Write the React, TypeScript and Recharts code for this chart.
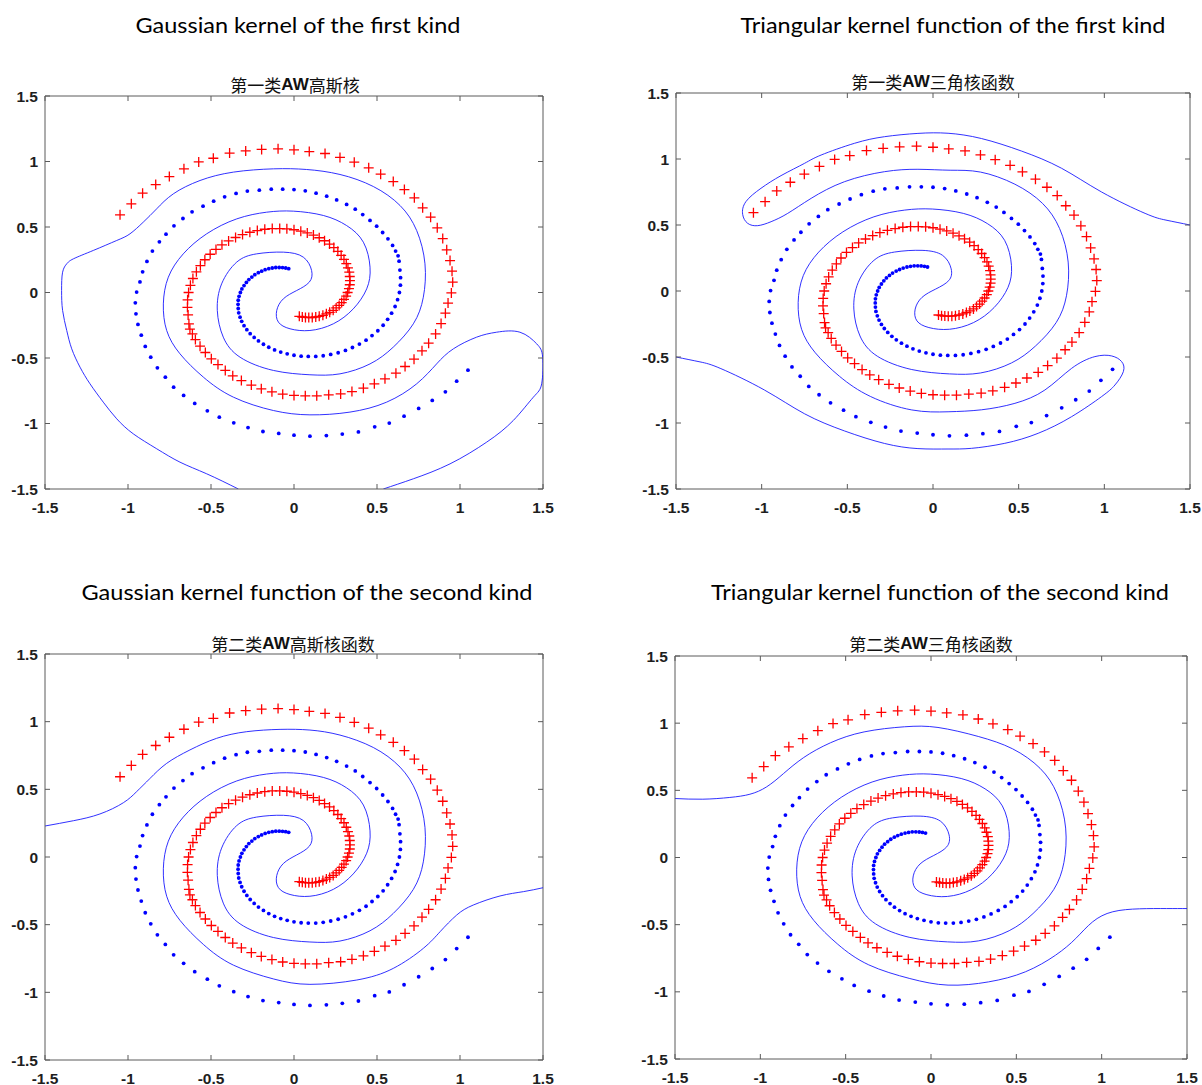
import React from 'react';
import { ComposedChart, XAxis, YAxis, Scatter, Line, ReferenceLine } from 'recharts';

type P = [number, number];

const TICKS = [-1.5, -1, -0.5, 0, 0.5, 1, 1.5];
const TICK_LABELS = ['-1.5', '-1', '-0.5', '0', '0.5', '1', '1.5'];

const TITLES = [
  'Gaussian kernel of the first kind',
  'Triangular kernel function of the first kind',
  'Gaussian kernel function of the second kind',
  'Triangular kernel function of the second kind',
];
const SUB_PRE = ['第一类', '第一类', '第二类', '第二类'];
const SUB_POST = ['高斯核', '三角核函数', '高斯核函数', '三角核函数'];

// red "+" spiral (class 1)
const RED: P[] = [
  [-1.048,0.593],[-0.980,0.677],[-0.912,0.758],[-0.833,0.824],[-0.751,0.885],[-0.663,0.944],[-0.574,0.997],[-0.486,1.025],[-0.388,1.064],[-0.291,1.081],[-0.195,1.092],[-0.096,1.097],[0.000,1.089],[0.092,1.076],[0.187,1.061],[0.277,1.031],[0.363,0.995],[0.450,0.952],[0.522,0.903],[0.598,0.847],[0.665,0.786],[0.725,0.723],[0.775,0.646],[0.823,0.575],[0.863,0.494],[0.896,0.412],[0.920,0.326],[0.940,0.244],[0.952,0.163],[0.956,0.079],[0.948,-0.003],[0.928,-0.081],[0.912,-0.158],[0.886,-0.237],[0.853,-0.316],[0.811,-0.387],[0.771,-0.445],[0.723,-0.509],[0.669,-0.565],[0.614,-0.616],[0.548,-0.659],[0.484,-0.697],[0.418,-0.730],[0.349,-0.756],[0.281,-0.774],[0.209,-0.781],[0.137,-0.789],[0.068,-0.789],[0.000,-0.786],[-0.068,-0.776],[-0.133,-0.758],[-0.197,-0.735],[-0.257,-0.707],[-0.317,-0.672],[-0.369,-0.636],[-0.414,-0.595],[-0.458,-0.550],[-0.498,-0.506],[-0.534,-0.458],[-0.566,-0.410],[-0.594,-0.359],[-0.612,-0.316],[-0.627,-0.280],[-0.633,-0.239],
  [-0.638,-0.171],[-0.642,-0.113],[-0.641,-0.056],[-0.635,0],[-0.624,0.055],[-0.609,0.107],[-0.588,0.158],[-0.564,0.205],[-0.537,0.250],[-0.505,0.292],[-0.470,0.329],[-0.434,0.364],[-0.394,0.394],[-0.352,0.420],[-0.310,0.442],[-0.266,0.460],[-0.221,0.473],[-0.176,0.483],[-0.131,0.488],[-0.086,0.488],[-0.043,0.486],[0,0.479],[0.041,0.468],[0.080,0.455],[0.117,0.438],[0.152,0.418],[0.184,0.395],[0.214,0.370],[0.240,0.343],[0.264,0.314],[0.284,0.284],[0.301,0.253],[0.315,0.220],[0.325,0.188],[0.333,0.155],[0.336,0.122],[0.337,0.090],[0.336,0.059],[0.331,0.029],[0.323,0],[0.314,-0.027],[0.301,-0.053],[0.287,-0.077],[0.272,-0.099],[0.254,-0.118],[0.236,-0.136],[0.215,-0.151],[0.195,-0.163],[0.174,-0.174],[0.152,-0.182],[0.131,-0.187],[0.110,-0.191],[0.089,-0.191],[0.069,-0.190],[0.050,-0.187],[0.032,-0.182],
];

// blue dot spiral (class 2)
const BLUE: P[] = [
  [1.048,-0.593],[0.980,-0.677],[0.912,-0.758],[0.833,-0.824],[0.751,-0.885],[0.663,-0.944],[0.574,-0.997],[0.486,-1.025],[0.388,-1.064],[0.291,-1.081],[0.195,-1.092],[0.096,-1.097],[0,-1.089],[-0.092,-1.076],[-0.187,-1.061],[-0.277,-1.031],[-0.363,-0.995],[-0.450,-0.952],[-0.522,-0.903],[-0.598,-0.847],[-0.665,-0.786],[-0.725,-0.723],[-0.775,-0.646],[-0.823,-0.575],[-0.863,-0.494],[-0.896,-0.412],[-0.920,-0.326],[-0.940,-0.244],[-0.952,-0.163],[-0.956,-0.079],[-0.948,0.003],[-0.928,0.081],[-0.912,0.158],[-0.886,0.237],[-0.853,0.316],[-0.811,0.387],[-0.771,0.445],[-0.723,0.509],[-0.669,0.565],[-0.614,0.616],[-0.548,0.659],[-0.484,0.697],[-0.418,0.730],[-0.349,0.756],[-0.281,0.774],[-0.209,0.781],[-0.137,0.789],[-0.068,0.789],[0,0.786],[0.068,0.776],[0.133,0.758],[0.197,0.735],[0.257,0.707],[0.317,0.672],[0.369,0.636],[0.414,0.595],[0.458,0.550],[0.498,0.506],[0.534,0.458],[0.566,0.410],[0.594,0.359],[0.612,0.316],[0.627,0.280],[0.633,0.239],
  [0.638,0.171],[0.642,0.113],[0.641,0.056],[0.635,0],[0.624,-0.055],[0.609,-0.107],[0.588,-0.158],[0.564,-0.205],[0.537,-0.250],[0.505,-0.292],[0.470,-0.329],[0.434,-0.364],[0.394,-0.394],[0.352,-0.420],[0.310,-0.442],[0.266,-0.460],[0.221,-0.473],[0.176,-0.483],[0.131,-0.488],[0.086,-0.488],[0.043,-0.486],[0,-0.479],[-0.041,-0.468],[-0.080,-0.455],[-0.117,-0.438],[-0.152,-0.418],[-0.184,-0.395],[-0.214,-0.370],[-0.240,-0.343],[-0.264,-0.314],[-0.284,-0.284],[-0.301,-0.253],[-0.315,-0.220],[-0.325,-0.188],[-0.333,-0.155],[-0.336,-0.122],[-0.337,-0.090],[-0.336,-0.059],[-0.331,-0.029],[-0.323,0],[-0.314,0.027],[-0.301,0.053],[-0.287,0.077],[-0.272,0.099],[-0.254,0.118],[-0.236,0.136],[-0.215,0.151],[-0.195,0.163],[-0.174,0.174],[-0.152,0.182],[-0.131,0.187],[-0.110,0.191],[-0.089,0.191],[-0.069,0.190],[-0.050,0.187],[-0.032,0.182],
];

// decision boundary: inner part shared by all four panels
const BOUNDARY_CORE: P[] = [
  [0.277,0.901],[0.478,0.809],[0.639,0.664],[0.739,0.473],[0.789,0.219],[0.779,-0.036],[0.719,-0.239],[0.598,-0.417],[0.458,-0.545],[0.277,-0.621],[0.096,-0.628],[-0.124,-0.595],[-0.325,-0.494],[-0.426,-0.341],[-0.462,-0.137],[-0.436,0.066],[-0.345,0.232],[-0.225,0.295],[-0.064,0.308],[0.056,0.270],[0.106,0.168],[0.092,0.079],[0.016,0.015],[-0.064,-0.048],[-0.104,-0.137],[-0.094,-0.226],[-0.024,-0.277],[0.096,-0.290],[0.237,-0.239],[0.357,-0.125],[0.438,0.028],[0.458,0.193],[0.418,0.384],[0.317,0.511],[0.177,0.588],[-0.004,0.621],[-0.165,0.613],[-0.345,0.562],[-0.526,0.448],[-0.667,0.295],[-0.757,0.117],[-0.787,-0.087],[-0.767,-0.290],[-0.687,-0.468],[-0.546,-0.646],[-0.365,-0.799],[-0.124,-0.901],
];

const G1_HEAD: P[] = [[-0.335,-1.5],[-0.526,-1.384],[-0.687,-1.295],[-0.827,-1.193],[-0.968,-1.079],[-1.068,-0.964],[-1.149,-0.837],[-1.229,-0.697],[-1.289,-0.570],[-1.339,-0.430],[-1.369,-0.290],[-1.394,-0.137],[-1.400,0.015],[-1.394,0.155],[-1.369,0.219],[-1.329,0.257],[-1.209,0.321],[-1.068,0.397],[-0.988,0.448],[-0.908,0.537],[-0.827,0.639],[-0.727,0.753],[-0.566,0.855],[-0.365,0.919],[-0.124,0.944],[0.076,0.939]];
const G1_TAIL: P[] = [[0.096,-0.934],[0.337,-0.913],[0.558,-0.837],[0.739,-0.697],[0.859,-0.545],[0.960,-0.430],[1.100,-0.341],[1.221,-0.303],[1.361,-0.303],[1.462,-0.392],[1.498,-0.494],[1.492,-0.697],[1.442,-0.799],[1.321,-0.977],[1.161,-1.142],[0.940,-1.308],[0.719,-1.422],[0.538,-1.5]];

const T1_HEAD: P[] = [[1.5,0.5],[1.36,0.537],[1.238,0.588],[0.984,0.75],[0.750,0.93],[0.517,1.06],[0.283,1.155],[0.088,1.195],[-0.088,1.194],[-0.283,1.169],[-0.458,1.119],[-0.653,1.030],[-0.750,0.967],[-0.887,0.874],[-1.004,0.778],[-1.092,0.677],[-1.111,0.581],[-1.082,0.513],[-1.023,0.495],[-0.945,0.525],[-0.848,0.588],[-0.711,0.702],[-0.517,0.828],[-0.283,0.904],[-0.088,0.922],[0.100,0.915]];
const T1_TAIL: P[] = [[0.088,-0.915],[0.283,-0.900],[0.478,-0.851],[0.653,-0.750],[0.809,-0.586],[0.945,-0.497],[1.043,-0.492],[1.101,-0.535],[1.111,-0.611],[1.062,-0.712],[0.984,-0.800],[0.809,-0.952],[0.614,-1.078],[0.419,-1.154],[0.224,-1.192],[0.088,-1.197],[-0.088,-1.194],[-0.283,-1.155],[-0.517,-1.06],[-0.750,-0.93],[-0.984,-0.75],[-1.238,-0.588],[-1.36,-0.537],[-1.5,-0.5]];

const G2_HEAD: P[] = [[-1.5,0.229],[-1.329,0.268],[-1.169,0.318],[-1.028,0.401],[-0.948,0.483],[-0.867,0.581],[-0.767,0.692],[-0.627,0.791],[-0.466,0.877],[-0.285,0.926],[-0.084,0.943],[0.096,0.938]];
const G2_TAIL: P[] = [[0.096,-0.941],[0.378,-0.909],[0.598,-0.823],[0.779,-0.675],[0.880,-0.552],[0.980,-0.429],[1.080,-0.355],[1.241,-0.288],[1.382,-0.256],[1.5,-0.227]];

const T2_HEAD: P[] = [[-1.5,0.439],[-1.337,0.434],[-1.179,0.447],[-1.061,0.471],[-0.963,0.526],[-0.864,0.625],[-0.746,0.744],[-0.589,0.854],[-0.392,0.935],[-0.156,0.973],[0.041,0.968]];
const T2_TAIL: P[] = [[0.100,-0.950],[0.337,-0.926],[0.553,-0.851],[0.730,-0.727],[0.848,-0.603],[0.947,-0.479],[1.065,-0.404],[1.222,-0.382],[1.380,-0.380],[1.5,-0.38]];

const toPts = (a: P[]) => a.map(([x, y]) => ({ x, y }));

const BOX = '#5a5a5a';
const TICK_FONT = '"Liberation Sans", Arial, sans-serif';

interface Cfg {
  left: number; right: number; top: number; bottom: number;
  head: P[]; tail: P[];
  titleX: number; titleY: number; titleW: number;
  subX: number; subY: number;
}

const PANELS: Cfg[] = [
  { left: 45, right: 543, top: 95.5, bottom: 488.5, head: G1_HEAD, tail: G1_TAIL, titleX: 298, titleY: 24, titleW: 325, subX: 295, subY: 84 },
  { left: 676, right: 1190, top: 93, bottom: 489, head: T1_HEAD, tail: T1_TAIL, titleX: 953, titleY: 24, titleW: 425, subX: 933, subY: 81 },
  { left: 45, right: 543, top: 654, bottom: 1060, head: G2_HEAD, tail: G2_TAIL, titleX: 307, titleY: 591, titleW: 451, subX: 293, subY: 643 },
  { left: 675, right: 1187, top: 656, bottom: 1059, head: T2_HEAD, tail: T2_TAIL, titleX: 940, titleY: 591, titleW: 458, subX: 931, subY: 643 },
];

const YW = 50;
const XH = 40;
const MT = 14;
const MR = 12;

const RedPlus = (props: any) => {
  const { cx, cy } = props;
  if (cx == null || cy == null) return null;
  return <path d={`M${cx - 5},${cy}H${cx + 5}M${cx},${cy - 5}V${cy + 5}`} stroke="#ff0000" strokeWidth={1.3} fill="none" />;
};
const BlueDot = (props: any) => {
  const { cx, cy } = props;
  if (cx == null || cy == null) return null;
  return <circle cx={cx} cy={cy} r={1.9} fill="#0000ff" />;
};

function Panel({ cfg }: { cfg: Cfg }) {
  const pw = cfg.right - cfg.left;
  const ph = cfg.bottom - cfg.top;
  const width = YW + pw + MR;
  const height = MT + ph + XH;
  const pl = YW, pr = YW + pw, pt = MT, pb = MT + ph;
  const curve = toPts([...cfg.head, ...BOUNDARY_CORE, ...cfg.tail]);

  const xTick = (p: any) => {
    const v = p.payload.value;
    const lab = TICK_LABELS[TICKS.indexOf(v)];
    return (
      <g>
        <line x1={p.x} x2={p.x} y1={pb} y2={pb - 5} stroke={BOX} />
        <line x1={p.x} x2={p.x} y1={pt} y2={pt + 5} stroke={BOX} />
        <text x={p.x} y={pb + 18} textAnchor="middle" dominantBaseline="central" fontFamily={TICK_FONT} fontWeight="bold" fontSize={15.5} fill="#1e1e1e">{lab}</text>
      </g>
    );
  };
  const yTick = (p: any) => {
    const v = p.payload.value;
    const lab = TICK_LABELS[TICKS.indexOf(v)];
    return (
      <g>
        <line x1={pl} x2={pl + 5} y1={p.y} y2={p.y} stroke={BOX} />
        <line x1={pr} x2={pr - 5} y1={p.y} y2={p.y} stroke={BOX} />
        <text x={pl - 7} y={p.y} textAnchor="end" dominantBaseline="central" fontFamily={TICK_FONT} fontWeight="bold" fontSize={15.5} fill="#1e1e1e">{lab}</text>
      </g>
    );
  };

  return (
    <div style={{ position: 'absolute', left: cfg.left - YW, top: cfg.top - MT }}>
      <ComposedChart width={width} height={height} margin={{ top: MT, right: MR, bottom: 0, left: 0 }}>
        <XAxis type="number" dataKey="x" domain={[-1.5, 1.5]} ticks={TICKS} interval={0} allowDataOverflow height={XH}
          tick={xTick} tickLine={false} axisLine={{ stroke: BOX, strokeWidth: 1 }} />
        <YAxis type="number" dataKey="y" domain={[-1.5, 1.5]} ticks={TICKS} interval={0} allowDataOverflow width={YW}
          tick={yTick} tickLine={false} axisLine={{ stroke: BOX, strokeWidth: 1 }} />
        <ReferenceLine y={1.5} stroke={BOX} strokeWidth={1} />
        <ReferenceLine x={1.5} stroke={BOX} strokeWidth={1} />
        <Line data={curve} dataKey="y" type="natural" stroke="#1a1aff" strokeWidth={0.9} dot={false} activeDot={false} isAnimationActive={false} />
        <Scatter data={toPts(RED)} dataKey="y" shape={RedPlus} isAnimationActive={false} />
        <Scatter data={toPts(BLUE)} dataKey="y" shape={BlueDot} isAnimationActive={false} />
      </ComposedChart>
    </div>
  );
}

export default function App() {
  return (
    <div style={{ position: 'absolute', left: 0, top: 0, width: 1202, height: 1085, background: '#fff' }}>
      <svg width={1202} height={1085} style={{ position: 'absolute', left: 0, top: 0 }}>
        {PANELS.map((c, i) => (
          <g key={i}>
            <text x={c.titleX} y={c.titleY} textAnchor="middle" dominantBaseline="central" fontFamily="Lato, 'Open Sans', sans-serif"
              fontSize={22} fill="#000" textLength={c.titleW} lengthAdjust="spacingAndGlyphs">{TITLES[i]}</text>
            <text x={c.subX} y={c.subY} textAnchor="middle" dominantBaseline="central" fontFamily="'Noto Sans CJK SC', sans-serif" fontSize={17} fill="#111">
              <tspan>{SUB_PRE[i]}</tspan>
              <tspan fontFamily="'Liberation Sans', Arial, sans-serif" fontWeight="bold">AW</tspan>
              <tspan>{SUB_POST[i]}</tspan>
            </text>
          </g>
        ))}
      </svg>
      {PANELS.map((c, i) => <Panel key={i} cfg={c} />)}
    </div>
  );
}
